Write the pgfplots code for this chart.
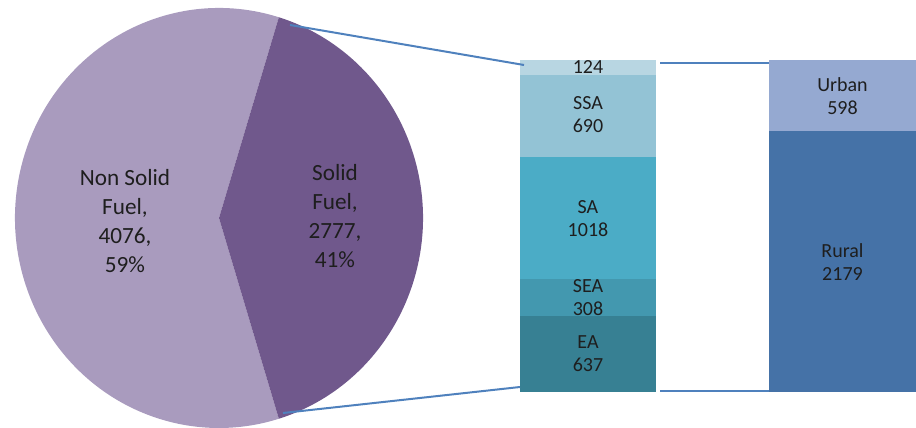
\documentclass[border=0pt]{standalone}
\usepackage{pgfplots}
\pgfplotsset{compat=1.18}
\usepackage{fontspec}
\setmainfont{Carlito}
\definecolor{cNonSolid}{RGB}{169,155,190}
\definecolor{cSolid}{RGB}{112,88,140}
\definecolor{cOther}{RGB}{184,214,226}
\definecolor{cSSA}{RGB}{147,195,213}
\definecolor{cSA}{RGB}{75,172,198}
\definecolor{cSEA}{RGB}{67,152,175}
\definecolor{cEA}{RGB}{55,128,147}
\definecolor{cUrban}{RGB}{149,169,209}
\definecolor{cRural}{RGB}{69,114,167}
\definecolor{conn}{RGB}{79,129,189}
\definecolor{txt}{RGB}{30,30,30}
\tikzset{barlbl/.style={font=\fontsize{10}{11.5}\selectfont, text=txt, align=center},
         pielbl/.style={font=\fontsize{11.6}{14.5}\selectfont, text=txt, align=center}}
\begin{document}
\begin{tikzpicture}
\useasboundingbox (0,0) rectangle (458pt,214pt);
% ---- stacked bars ----
\begin{axis}[
  at={(0pt,18pt)}, anchor=south west,
  width=458pt, height=166pt, scale only axis,
  xmin=0, xmax=916, ymin=0, ymax=2777,
  hide axis, clip=false,
  ybar stacked, bar shift=0pt,
]
\addplot[fill=cEA, draw=none, bar width=136] coordinates {(588,637) (842.5,0)};
\addplot[fill=cSEA, draw=none, bar width=136] coordinates {(588,308) (842.5,0)};
\addplot[fill=cSA, draw=none, bar width=136] coordinates {(588,1018) (842.5,0)};
\addplot[fill=cSSA, draw=none, bar width=136] coordinates {(588,690) (842.5,0)};
\addplot[fill=cOther, draw=none, bar width=136] coordinates {(588,124) (842.5,0)};
\addplot[fill=cRural, draw=none, bar width=147] coordinates {(588,0) (842.5,2179)};
\addplot[fill=cUrban, draw=none, bar width=147] coordinates {(588,0) (842.5,598)};
\end{axis}
% ---- pie, connectors and labels (pixel coordinates) ----
\begin{axis}[
  at={(0pt,0pt)}, anchor=south west,
  width=458pt, height=214pt, scale only axis,
  xmin=0, xmax=916, ymin=0, ymax=428,
  hide axis, clip=false,
]
\pgfmathsetmacro{\half}{2777/(2777+4076)*180}
\fill[cNonSolid] (axis cs:219,210) -- ++(axis direction cs:{204*cos(\half)},{210*sin(\half)})
  arc[start angle=\half, end angle={360-\half}, x radius=102pt, y radius=105pt] -- cycle;
\fill[cSolid] (axis cs:219,210) -- ++(axis direction cs:{204*cos(\half)},{-210*sin(\half)})
  arc[start angle=-\half, end angle=\half, x radius=102pt, y radius=105pt] -- cycle;
\addplot[conn, line width=1pt, no marks] coordinates {(290,403) (524,363)};
\addplot[conn, line width=1pt, no marks] coordinates {(283,15) (520,41)};
\addplot[conn, line width=1pt, no marks] coordinates {(660,365) (769,365)};
\addplot[conn, line width=1pt, no marks] coordinates {(660,37) (769,37)};
\node[pielbl] at (axis cs:125,207) {Non Solid\\Fuel,\\4076,\\59\%};
\node[pielbl] at (axis cs:335,212) {Solid\\Fuel,\\2777,\\41\%};
% bar labels: y = 36 + (segment centre)/2777*332
\node[barlbl] at (axis cs:588,74.1) {EA\\637};
\node[barlbl] at (axis cs:588,130.6) {SEA\\308};
\node[barlbl] at (axis cs:588,209.8) {SA\\1018};
\node[barlbl] at (axis cs:588,313) {SSA\\690};
\node[barlbl] at (axis cs:588,360.6) {124};
\node[barlbl] at (axis cs:842.5,166.3) {Rural\\2179};
\node[barlbl] at (axis cs:842.5,332.3) {Urban\\598};
\end{axis}
\end{tikzpicture}
\end{document}
